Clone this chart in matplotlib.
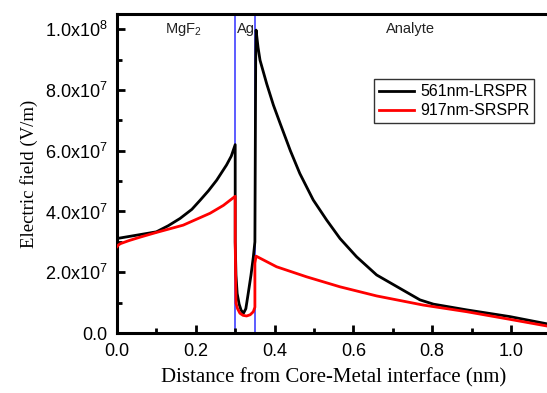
import numpy as np
import matplotlib.pyplot as plt
from matplotlib.ticker import MultipleLocator, FuncFormatter

plt.rcParams['font.family'] = ['Liberation Sans', 'DejaVu Sans']
plt.rcParams['mathtext.fontset'] = 'custom'
plt.rcParams['mathtext.rm'] = 'Liberation Sans'
plt.rcParams['mathtext.it'] = 'Liberation Sans'

# field profile, 561nm long-range SPR (values in 1e7 V/m)
x_lr = [0.0, 0.05, 0.1, 0.13, 0.16, 0.19, 0.211, 0.232, 0.253, 0.278, 0.29, 0.3,
        0.3, 0.302, 0.305, 0.31, 0.315, 0.321, 0.327, 0.333, 0.34, 0.346, 0.35,
        0.352, 0.353, 0.358, 0.363, 0.38, 0.397, 0.414, 0.44, 0.464, 0.498,
        0.532, 0.566, 0.608, 0.659, 0.718, 0.769, 0.803, 0.888, 0.997, 1.1]
e_lr = [3.11, 3.22, 3.33, 3.53, 3.77, 4.07, 4.37, 4.68, 5.03, 5.53, 5.82, 6.2,
        3.0, 1.9, 1.3, 0.95, 0.75, 0.65, 0.8, 1.3, 1.9, 2.5, 3.0,
        9.0, 9.97, 9.4, 8.98, 8.2, 7.5, 6.9, 6.0, 5.25, 4.38,
        3.72, 3.11, 2.51, 1.91, 1.47, 1.09, 0.95, 0.76, 0.54, 0.28]

# field profile, 917nm short-range SPR
x_sr = [0.0, 0.004, 0.0085, 0.03, 0.06, 0.1, 0.168, 0.236, 0.27, 0.3,
        0.3, 0.302, 0.306, 0.312, 0.32, 0.329, 0.338, 0.346, 0.35,
        0.35, 0.353, 0.405, 0.481, 0.566, 0.659, 0.777, 0.888, 0.997, 1.1]
e_sr = [2.84, 2.9, 2.94, 3.04, 3.16, 3.31, 3.55, 3.94, 4.2, 4.5,
        3.0, 0.98, 0.8, 0.65, 0.58, 0.56, 0.6, 0.7, 0.85,
        2.3, 2.53, 2.18, 1.85, 1.52, 1.22, 0.92, 0.7, 0.45, 0.21]

layer_edges = [0.3, 0.35]
layer_names = ['MgF$_2$', 'Ag', 'Analyte']
layer_text_x = [0.167, 0.328, 0.745]

fig = plt.figure(figsize=(5.47, 3.93), dpi=100)
ax = fig.add_axes([117 / 547, 1 - 333 / 393, 433.4 / 547, 319 / 393])

for xe in layer_edges:
    ax.axvline(xe, color='#3030ff', lw=1.1, zorder=1)

ax.plot(x_lr, np.array(e_lr) * 1e7, color='black', lw=2, label='561nm-LRSPR', zorder=3)
ax.plot(x_sr, np.array(e_sr) * 1e7, color='red', lw=2, label='917nm-SRSPR', zorder=3)

for name, xt in zip(layer_names, layer_text_x):
    ax.text(xt, 1.0e8, name, fontsize=10.5, ha='center', va='center', color='#222222')

ax.set_xlim(0, 1.1)
ax.set_ylim(0, 1.05e8)
ax.xaxis.set_major_locator(MultipleLocator(0.2))
ax.xaxis.set_minor_locator(MultipleLocator(0.1))
ax.yaxis.set_major_locator(MultipleLocator(2e7))
ax.yaxis.set_minor_locator(MultipleLocator(1e7))


def sci(v, pos):
    if v == 0:
        return '0.0'
    ex = int(np.floor(np.log10(abs(v))))
    return '%.1fx10$^{%d}$' % (v / 10 ** ex, ex)


ax.yaxis.set_major_formatter(FuncFormatter(sci))
ax.xaxis.set_major_formatter(FuncFormatter(lambda v, p: '%.1f' % v))
ax.tick_params(which='both', direction='in', width=2, labelsize=13)
ax.tick_params(which='major', length=6)
ax.tick_params(axis='x', which='major', pad=7)
ax.tick_params(axis='y', which='major', pad=7)
ax.tick_params(which='minor', length=3.5)
for s in ax.spines.values():
    s.set_linewidth(2.2)

ax.set_xlabel('Distance from Core-Metal interface (nm)', family='Liberation Serif',
              fontsize=15, labelpad=6)
ax.set_ylabel('Electric field (V/m)', family='Liberation Serif', fontsize=13.5, labelpad=5)

leg = ax.legend(loc='upper left', bbox_to_anchor=(0.593, 0.795), fontsize=11.5,
                fancybox=False, edgecolor='black', handlelength=2.2,
                borderpad=0.3, labelspacing=0.25, handletextpad=0.4,
                borderaxespad=0)
leg.get_frame().set_linewidth(1)

fig.savefig('out.png', dpi=100)
